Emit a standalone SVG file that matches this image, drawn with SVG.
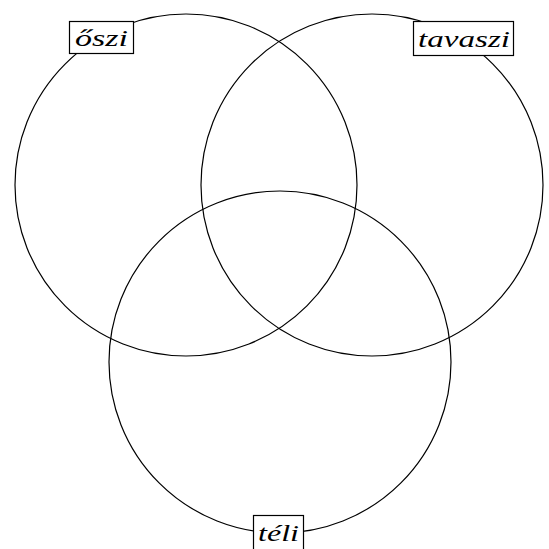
<svg xmlns="http://www.w3.org/2000/svg" width="549" height="549" viewBox="0 0 549 549">
<style>
.c{fill:none;stroke:#000;stroke-width:1.2}
.b{fill:#fff;stroke:#000;stroke-width:1.2}
.t{font-family:"Liberation Serif",serif;font-style:italic;font-size:24px;fill:#000}
</style>
<rect width="549" height="549" fill="#fff"/>
<g id="circles">
<circle id="c-oszi" class="c" cx="186" cy="185" r="171"/>
<circle id="c-tavaszi" class="c" cx="372" cy="185" r="171"/>
<circle id="c-teli" class="c" cx="280" cy="362" r="171"/>
</g>
<g id="oszi"><rect class="b" x="69.5" y="21.5" width="64" height="32"/><text class="t" x="75" y="46" textLength="53" lengthAdjust="spacingAndGlyphs">őszi</text></g>
<g id="tavaszi"><rect class="b" x="413.5" y="21.5" width="100" height="34"/><text class="t" x="418" y="47" textLength="92" lengthAdjust="spacingAndGlyphs">tavaszi</text></g>
<g id="teli"><rect class="b" x="253.5" y="515.5" width="50" height="40"/><text class="t" x="258" y="541" textLength="41" lengthAdjust="spacingAndGlyphs">téli</text></g>
</svg>
